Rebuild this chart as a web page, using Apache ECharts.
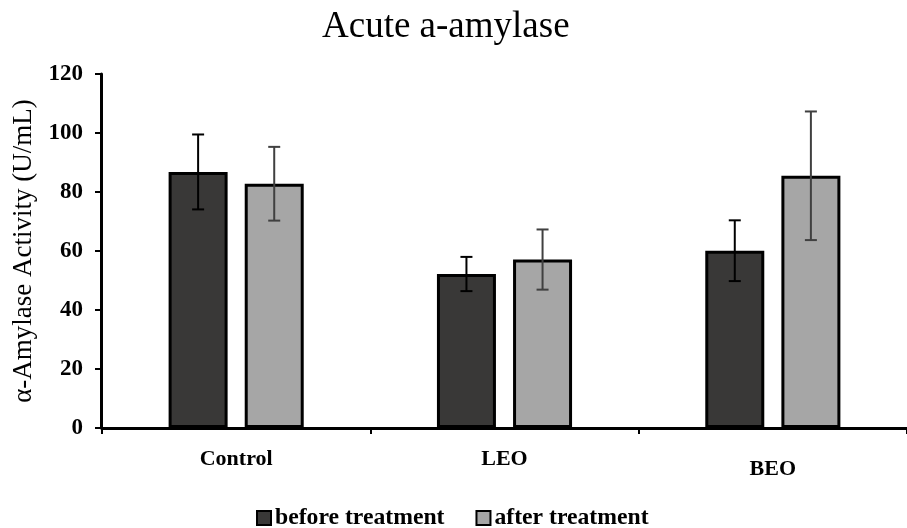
<!DOCTYPE html>
<html>
<head>
<meta charset="utf-8">
<script src="https://cdn.jsdelivr.net/npm/echarts@6/dist/echarts.min.js"></script>
<style>
  html, body { margin: 0; padding: 0; background: #fff; }
  #chart { width: 907px; height: 528px; }
</style>
</head>
<body>
<div id="chart"></div>
<script>
// Acute a-amylase activity, before vs after treatment (mean ± error)
const categories = ['Control', 'LEO', 'BEO'];
const beforeMean = [86.8, 52.2, 60.1];
const beforeErr  = [12.7, 5.8, 10.3];
const afterMean  = [82.8, 57.1, 85.5];
const afterErr   = [12.5, 10.2, 21.8];
const yTicks = [0, 20, 40, 60, 80, 100, 120];

const SERIF = '"Liberation Serif", "Times New Roman", Times, serif';
const BAR_W = 59;
const BAR_GAP = 0.29;

const chart = echarts.init(document.getElementById('chart'), null, { renderer: 'canvas' });

// error bar renderer; shift is the bar centre offset from the category centre
function errorBarRenderer(shift, color) {
  return function (params, api) {
    const idx = api.value(0);
    const lo = api.coord([idx, api.value(1)]);
    const hi = api.coord([idx, api.value(2)]);
    const x = lo[0] + shift;
    const cap = 6;
    const style = { stroke: color, lineWidth: 2 };
    return {
      type: 'group',
      children: [
        { type: 'line', shape: { x1: x, y1: hi[1], x2: x, y2: lo[1] }, style: style },
        { type: 'line', shape: { x1: x - cap, y1: hi[1], x2: x + cap, y2: hi[1] }, style: style },
        { type: 'line', shape: { x1: x - cap, y1: lo[1], x2: x + cap, y2: lo[1] }, style: style }
      ]
    };
  };
}

const halfStep = BAR_W * (1 + BAR_GAP) / 2;
const beforeErrData = categories.map((c, i) => [i, beforeMean[i] - beforeErr[i], beforeMean[i] + beforeErr[i]]);
const afterErrData = categories.map((c, i) => [i, afterMean[i] - afterErr[i], afterMean[i] + afterErr[i]]);

const option = {
  backgroundColor: '#ffffff',
  animation: false,
  title: {
    text: 'Acute a-amylase',
    left: 317,
    top: 4,
    textStyle: { fontFamily: SERIF, fontSize: 37, fontWeight: 'normal', color: '#000' }
  },
  legend: {
    top: 501,
    left: 251,
    icon: 'rect',
    itemWidth: 14,
    itemHeight: 14,
    itemGap: 31,
    itemStyle: { borderColor: '#000', borderWidth: 2 },
    data: ['before treatment', 'after treatment'],
    textStyle: { fontFamily: SERIF, fontSize: 23.7, fontWeight: 'bold', color: '#000', padding: [0, 0, 0, -1] }
  },
  grid: { left: 102, right: 0, top: 74, bottom: 100, containLabel: false },
  xAxis: {
    type: 'category',
    data: categories.map(c => c === 'BEO'
      ? { value: c, textStyle: { padding: [10, 0, 0, 0] } }
      : c),
    boundaryGap: true,
    axisLine: { lineStyle: { color: '#000', width: 3 } },
    axisTick: { show: true, length: 6, lineStyle: { color: '#000', width: 2 } },
    axisLabel: {
      margin: 20,
      fontFamily: SERIF, fontSize: 22, fontWeight: 'bold', color: '#000'
    }
  },
  yAxis: {
    type: 'value',
    min: yTicks[0],
    max: yTicks[yTicks.length - 1],
    interval: 20,
    offset: 1,
    name: 'α-Amylase Activity (U/mL)',
    nameLocation: 'middle',
    nameRotate: 90,
    nameGap: 56,
    nameTextStyle: { fontFamily: SERIF, fontSize: 27, color: '#000' },
    splitLine: { show: false },
    axisLine: { show: true, lineStyle: { color: '#000', width: 3 } },
    axisTick: { show: true, length: 6, lineStyle: { color: '#000', width: 2 } },
    axisLabel: {
      margin: 18,
      fontFamily: SERIF, fontSize: 23, fontWeight: 'bold', color: '#000'
    }
  },
  series: [
    {
      name: 'before treatment',
      type: 'bar',
      barWidth: BAR_W,
      barGap: (BAR_GAP * 100) + '%',
      data: beforeMean,
      itemStyle: { color: '#393837', borderColor: '#000', borderWidth: 3 }
    },
    {
      name: 'after treatment',
      type: 'bar',
      barWidth: BAR_W,
      data: afterMean,
      itemStyle: { color: '#a6a6a6', borderColor: '#000', borderWidth: 3 }
    },
    {
      type: 'custom',
      name: 'before error',
      renderItem: errorBarRenderer(-halfStep, '#000'),
      data: beforeErrData,
      encode: { x: 0, y: [1, 2] },
      z: 10
    },
    {
      type: 'custom',
      name: 'after error',
      renderItem: errorBarRenderer(halfStep, '#404040'),
      data: afterErrData,
      encode: { x: 0, y: [1, 2] },
      z: 10
    }
  ]
};

chart.setOption(option);
</script>
</body>
</html>
